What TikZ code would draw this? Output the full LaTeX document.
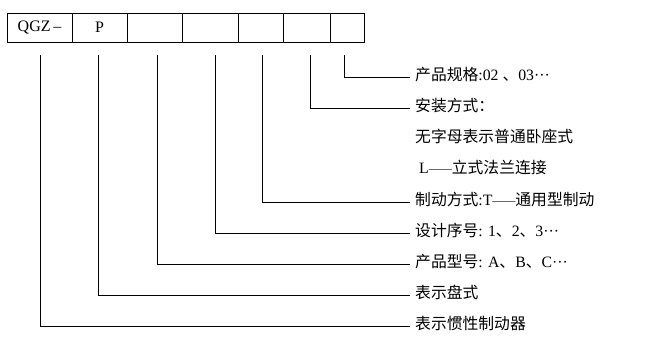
\documentclass[tikz,border=0pt]{standalone}
\usepackage{fontspec}
\setmainfont{Liberation Serif}
\newfontfamily\cjk{Noto Sans CJK SC}
\usepackage{tikz}

\newcommand\lat[1]{{\rmfamily #1}}
\newcommand\longbar{\lat{\fontsize{11.5}{11.5}\selectfont\raisebox{1.8pt}{——}}}

\tikzset{
  cell/.style={draw, line width=0.9pt, minimum height=29pt, inner sep=0pt,
    font=\fontsize{16}{16}\selectfont},
  lab/.style={anchor=west, inner xsep=5pt, inner ysep=0pt,
    text height=0.88em, text depth=0.12em, font=\cjk\fontsize{15.8}{15.8}\selectfont},
  conn/.style={line width=0.8pt}
}

\begin{document}
\begin{tikzpicture}[x=1pt,y=-1pt]
        \useasboundingbox (0,0) rectangle (647,349);

        % caixas do codigo
        \foreach \n/\x/\w/\t in {
        c1/39.5/65/{QGZ\,–}, c2/99.5/55/P, c3/154.5/55/{}, c4/210/56/{},
        c5/260.5/45/{}, c6/306.5/47/{}, c7/347/34/{}}
        \node[cell, minimum width=\w pt] (\n) at (\x,27.5) {\t};

        % textos
        \node[lab] (l1) at (410,77)  {产品规格\lat{:02 }、\lat{03···}};
        \node[lab] (l2) at (410,108) {安装方式：};
        \node[lab] (l3) at (410,139) {无字母表示普通卧座式};
        \node[lab] (l4) at (410,170) {\hspace{4pt}\lat{L}\longbar 立式法兰连接};
        \node[lab] (l5) at (410,202) {制动方式\lat{:T}\longbar 通用型制动};
        \node[lab] (l6) at (410,233) {设计序号\lat{: 1}、\lat{2}、\lat{3···}};
        \node[lab] (l7) at (410,264) {产品型号\lat{: A}、\lat{B}、\lat{C···}};
        \node[lab] (l8) at (410,295) {表示盘式};
        \node[lab] (l9) at (410,326) {表示惯性制动器};

        % linhas de chamada
        \foreach \i/\x in {1/40, 2/98, 3/157, 4/215, 5/262, 6/310, 7/344}
        \coordinate (t\i) at (\x,55);
        \foreach \i/\j in {1/9, 2/8, 3/7, 4/6, 5/5, 6/2, 7/1}
        \draw[conn] (t\i) |- (l\j.west);
    \end{tikzpicture}
\end{document}
